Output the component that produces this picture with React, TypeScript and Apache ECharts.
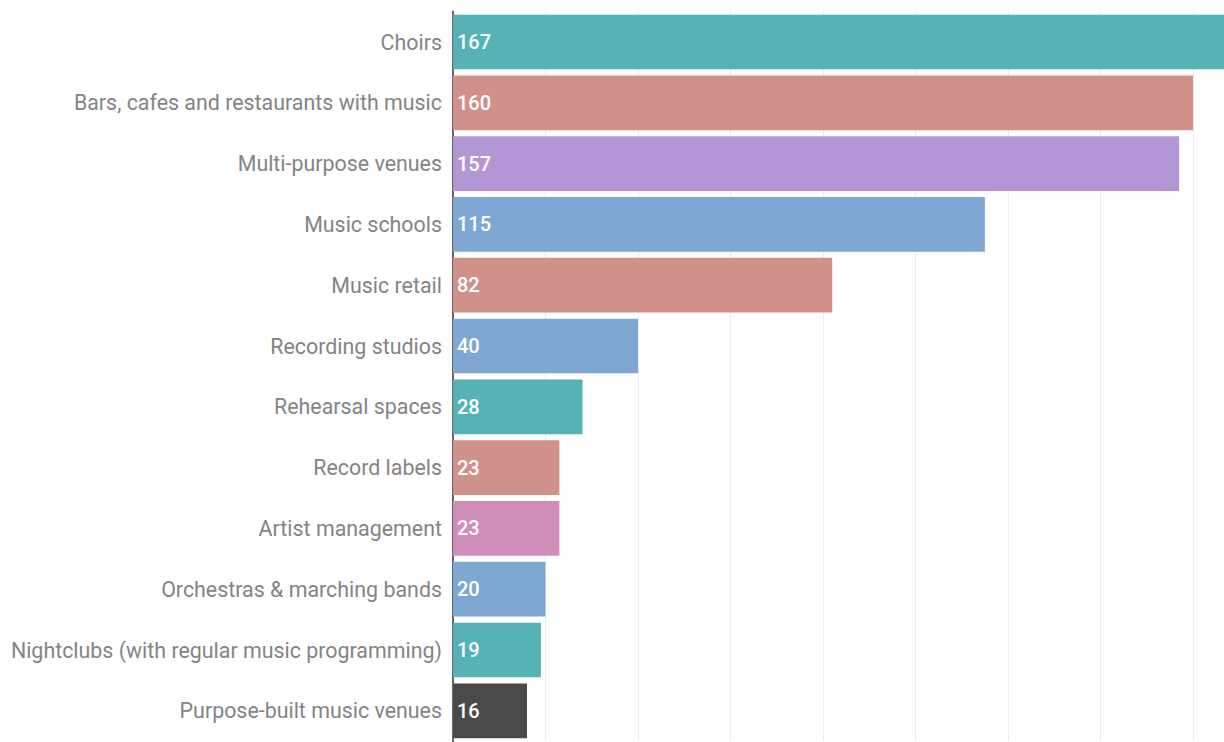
import React, { useEffect, useRef } from "react";
import * as echarts from "echarts";

const categories = [
  "Choirs",
  "Bars, cafes and restaurants with music",
  "Multi-purpose venues",
  "Music schools",
  "Music retail",
  "Recording studios",
  "Rehearsal spaces",
  "Record labels",
  "Artist management",
  "Orchestras & marching bands",
  "Nightclubs (with regular music programming)",
  "Purpose-built music venues",
];
const values = [167, 160, 157, 115, 82, 40, 28, 23, 23, 20, 19, 16];
const colors = [
  "#55b2b5",
  "#cf918a",
  "#b397d5",
  "#7ea8d3",
  "#cf918a",
  "#7ea8d3",
  "#55b2b5",
  "#cf918a",
  "#d08db9",
  "#7ea8d3",
  "#55b2b5",
  "#4a4a4a",
];

export default function App() {
  const ref = useRef<HTMLDivElement>(null);
  useEffect(() => {
    document.body.style.margin = "0";
    document.body.style.overflow = "hidden";
    const chart = echarts.init(ref.current!, null, { renderer: "svg" });
    chart.setOption({
      animation: false,
      grid: { left: 453, top: 11.6, width: 832.5, height: 729.6 },
      xAxis: {
        type: "value",
        min: 0,
        max: 180,
        interval: 20,
        axisLabel: { show: false },
        axisLine: { show: false },
        axisTick: { show: false },
        splitLine: { lineStyle: { color: "#ececec", width: 1 } },
      },
      yAxis: {
        type: "category",
        data: categories,
        inverse: true,
        axisTick: { show: false },
        axisLine: { lineStyle: { color: "#666", width: 2 } },
        axisLabel: {
          color: "#848484",
          fontFamily: "Roboto",
          fontSize: 21.4,
          margin: 11,
        },
      },
      series: [
        {
          type: "bar",
          barCategoryGap: "10%",
          data: values.map((v, i) => ({ value: v, itemStyle: { color: colors[i] } })),
          label: {
            show: true,
            position: "insideLeft",
            distance: 4,
            color: "#fff",
            fontFamily: "Roboto",
            fontWeight: 500,
            fontSize: 20,
          },
        },
      ],
    });
    return () => chart.dispose();
  }, []);
  return <div ref={ref} style={{ width: 1300, height: 760 }} />;
}
